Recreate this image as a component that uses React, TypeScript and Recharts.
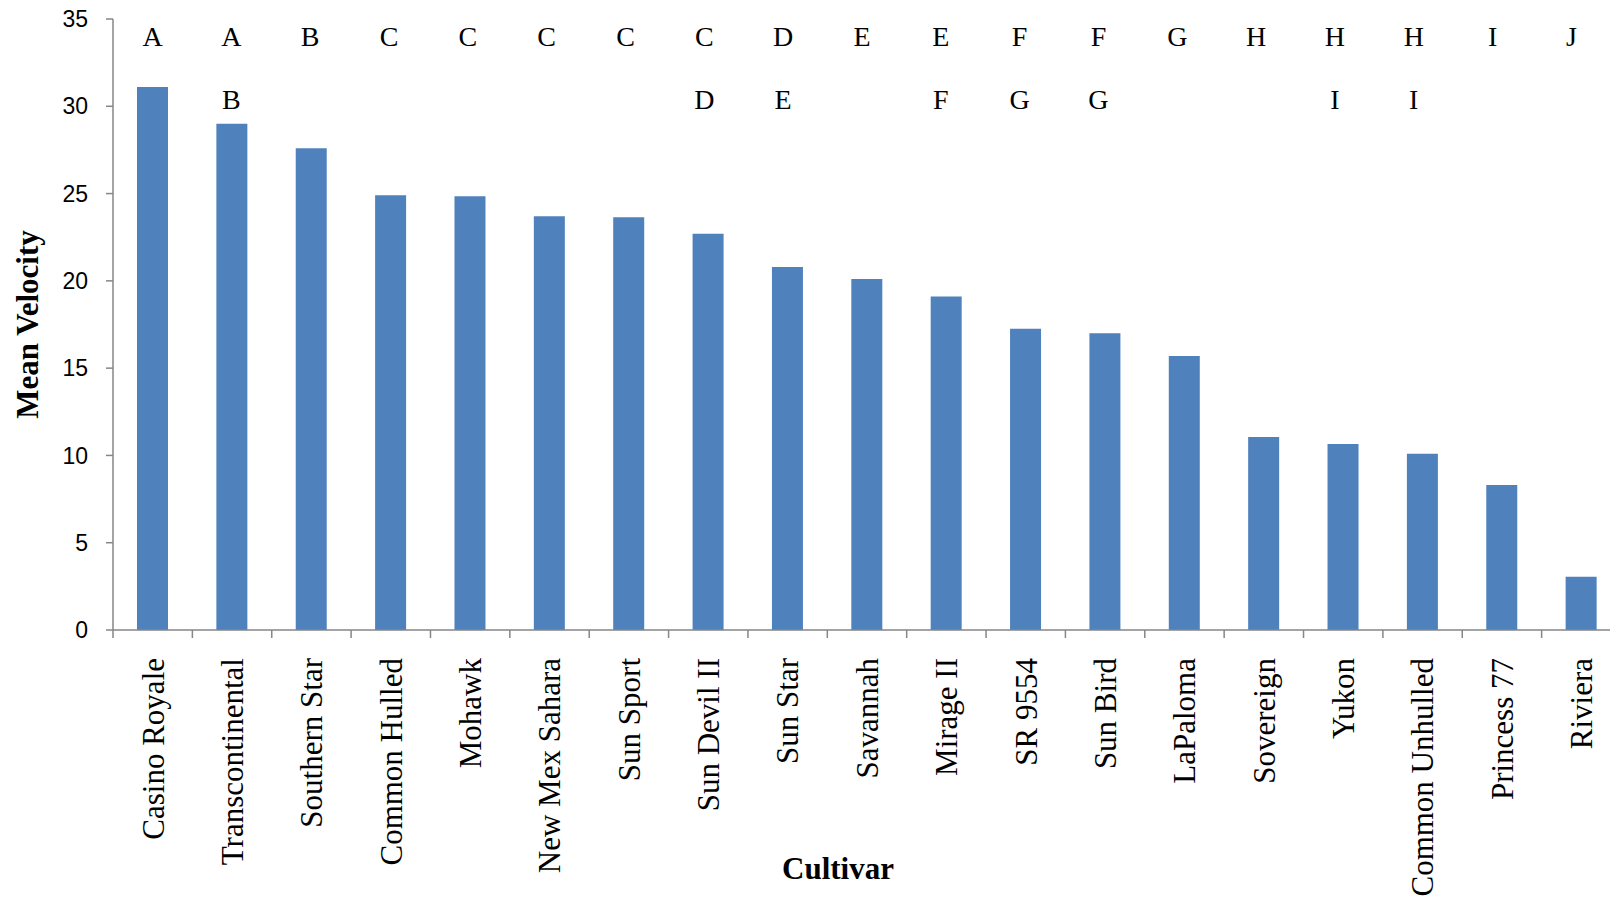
import { BarChart, Bar, XAxis, YAxis, LabelList, Label } from "recharts";

const cultivars = [
  "Casino Royale",
  "Transcontinental",
  "Southern Star",
  "Common Hulled",
  "Mohawk",
  "New Mex Sahara",
  "Sun Sport",
  "Sun Devil II",
  "Sun Star",
  "Savannah",
  "Mirage II",
  "SR 9554",
  "Sun Bird",
  "LaPaloma",
  "Sovereign",
  "Yukon",
  "Common Unhulled",
  "Princess 77",
  "Riviera",
];

const meanVelocity = [
  31.1, 29.0, 27.6, 24.9, 24.85, 23.7, 23.65, 22.7, 20.8, 20.1, 19.1, 17.25, 17.0, 15.7,
  11.05, 10.65, 10.1, 8.3, 3.05,
];

const topLetters = ["A", "A", "B", "C", "C", "C", "C", "C", "D", "E", "E", "F", "F", "G", "H", "H", "H", "I", "J"];
const bottomLetters = ["", "B", "", "", "", "", "", "D", "E", "", "F", "G", "G", "", "", "I", "I", "", ""];

const yTicks = [0, 5, 10, 15, 20, 25, 30, 35];

const data = cultivars.map((name, i) => ({
  name,
  velocity: meanVelocity[i],
  top: topLetters[i],
  bottom: bottomLetters[i],
}));

const CHART_W = 1621;
const CHART_H = 903;
const PLOT_LEFT = 113;
const BAND = (CHART_W - PLOT_LEFT) / cultivars.length;
const AXIS_COLOR = "#868686";
const SERIF = '"Liberation Serif", "Times New Roman", serif';

// category label, plus the tick mark on the left edge of each band
const CultivarTick = (props: any) => {
  const { x, y, payload } = props;
  return (
    <g>
      <line x1={x - BAND / 2} x2={x - BAND / 2} y1={y - 28} y2={y - 20} stroke={AXIS_COLOR} strokeWidth={1.5} />
      <text
        x={x}
        y={y}
        transform={`rotate(-90, ${x}, ${y})`}
        textAnchor="end"
        dy="0.35em"
        fontFamily={SERIF}
        fontSize={31}
        fill="#000"
      >
        {payload.value}
      </text>
    </g>
  );
};

// significance letters sit in fixed rows; the text boxes drift slightly left across the chart
const letterAt = (baseline: number) => (props: any) => {
  const { x, width, value, index } = props;
  if (!value) return null;
  const drift = -0.54 * (index || 0);
  return (
    <text x={x + width / 2 + drift} y={baseline} textAnchor="middle" fontFamily={SERIF} fontSize={28} fill="#000">
      {value}
    </text>
  );
};

export default function App() {
  return (
    <div style={{ position: "fixed", left: 0, top: 0, width: 1610, height: 903, overflow: "hidden", background: "#fff" }}>
      <BarChart width={CHART_W} height={CHART_H} data={data} margin={{ top: 19, right: 0, bottom: 0, left: 0 }}>
        <XAxis
          dataKey="name"
          height={273}
          interval={0}
          tickLine={false}
          tickSize={0}
          tickMargin={28}
          tick={<CultivarTick />}
          axisLine={{ stroke: AXIS_COLOR, strokeWidth: 1.5 }}
        >
          <Label
            content={() => (
              <text x={838} y={879} textAnchor="middle" fontFamily={SERIF} fontSize={31} fontWeight="bold" fill="#000">
                Cultivar
              </text>
            )}
          />
        </XAxis>
        <YAxis
          width={PLOT_LEFT}
          domain={[0, 35]}
          ticks={yTicks}
          interval={0}
          tickSize={7}
          tickMargin={18}
          tickLine={{ stroke: AXIS_COLOR, strokeWidth: 1.5 }}
          axisLine={{ stroke: AXIS_COLOR, strokeWidth: 1.5 }}
          tick={{ fill: "#000", fontSize: 23, fontFamily: '"Liberation Sans", Arial, sans-serif' }}
        >
          <Label
            content={(p: any) => {
              const vb = p.viewBox || { x: 0, y: 19, width: PLOT_LEFT, height: 611 };
              const cx = 27;
              const cy = vb.y + vb.height / 2;
              return (
                <text
                  x={cx}
                  y={cy}
                  transform={`rotate(-90, ${cx}, ${cy})`}
                  textAnchor="middle"
                  dy="0.35em"
                  fontFamily={SERIF}
                  fontSize={31}
                  fontWeight="bold"
                  fill="#000"
                >
                  Mean Velocity
                </text>
              );
            }}
          />
        </YAxis>
        <Bar dataKey="velocity" fill="#4F81BD" barSize={31} isAnimationActive={false}>
          <LabelList dataKey="top" content={letterAt(46)} />
          <LabelList dataKey="bottom" content={letterAt(109)} />
        </Bar>
      </BarChart>
    </div>
  );
}
